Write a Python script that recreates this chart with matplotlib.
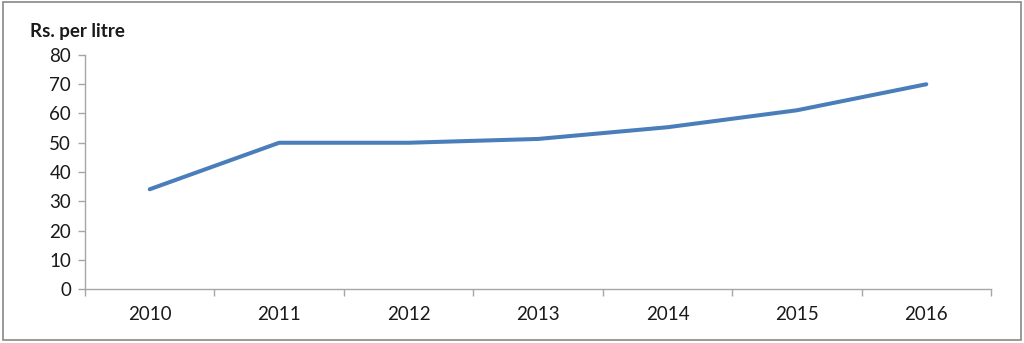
import matplotlib
matplotlib.use("Agg")
import matplotlib.pyplot as plt
from matplotlib.patches import Rectangle
import numpy as np

years = ["2010", "2011", "2012", "2013", "2014", "2015", "2016"]
price = [34.1, 50, 50, 51.3, 55.3, 61.1, 70]
y_ticks = [0, 10, 20, 30, 40, 50, 60, 70, 80]

plt.rcParams['font.family'] = ['Lato', 'DejaVu Sans']

W, H = 1024, 343
fig = plt.figure(figsize=(W/100, H/100), dpi=100)
ax = fig.add_axes([85/W, 1-289/H, (991-85)/W, (289-55)/H])

x = np.arange(len(years))
ax.plot(x, price, color='#4A7EBB', lw=2.9, solid_capstyle='round', solid_joinstyle='round')

ax.set_xlim(-0.5, len(years)-0.5)
ax.set_ylim(0, 80)
ax.set_yticks(y_ticks)
ax.set_xticks(x)
ax.set_xticklabels(years)
ax.set_xticks(np.arange(-0.5, len(years)), minor=True)
ax.tick_params(axis='x', which='major', length=0, pad=12, labelsize=13.5, colors='#1a1a1a')
ax.tick_params(axis='x', which='minor', length=5, width=1, color='#a6a6a6', direction='out')
ax.tick_params(axis='y', length=5, width=1, color='#a6a6a6', pad=5, labelsize=13.5, labelcolor='#1a1a1a')

for s in ['top', 'right']:
    ax.spines[s].set_visible(False)
for s in ['left', 'bottom']:
    ax.spines[s].set_color('#a6a6a6')
    ax.spines[s].set_linewidth(1)

fig.text(30/W, 1-32/H, "Rs. per litre", fontsize=13.5, fontweight='bold', va='center', ha='left', color='#1a1a1a')

fig.patches.append(Rectangle((3/W, 3/H), 1018/W, 338/H, transform=fig.transFigure,
                             fill=False, edgecolor='#878787', lw=1.2))

fig.savefig("out.png", dpi=100)
